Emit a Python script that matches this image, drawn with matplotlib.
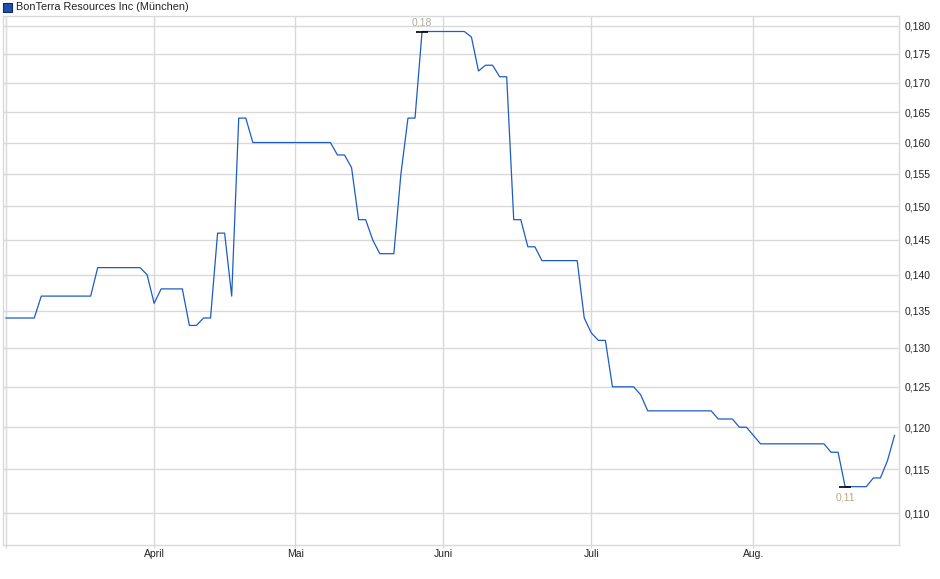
import matplotlib

matplotlib.use("Agg")
import matplotlib.pyplot as plt
import numpy as np
from matplotlib.patches import Rectangle
from matplotlib.ticker import FixedLocator, FuncFormatter, NullLocator

plt.rcParams["font.family"] = ["Liberation Sans", "DejaVu Sans"]

# daily closing prices (trading-day index 0..126), EUR
prices = [
    0.134, 0.134, 0.134, 0.134, 0.134, 0.137, 0.137, 0.137, 0.137, 0.137,
    0.137, 0.137, 0.137, 0.141, 0.141, 0.141, 0.141, 0.141, 0.141, 0.141,
    0.140, 0.136, 0.138, 0.138, 0.138, 0.138, 0.133, 0.133, 0.134, 0.134,
    0.146, 0.146, 0.137, 0.164, 0.164, 0.160, 0.160, 0.160, 0.160, 0.160,
    0.160, 0.160, 0.160, 0.160, 0.160, 0.160, 0.160, 0.158, 0.158, 0.156,
    0.148, 0.148, 0.145, 0.143, 0.143, 0.143, 0.155, 0.164, 0.164, 0.179,
    0.179, 0.179, 0.179, 0.179, 0.179, 0.179, 0.178, 0.172, 0.173, 0.173,
    0.171, 0.171, 0.148, 0.148, 0.144, 0.144, 0.142, 0.142, 0.142, 0.142,
    0.142, 0.142, 0.134, 0.132, 0.131, 0.131, 0.125, 0.125, 0.125, 0.125,
    0.124, 0.122, 0.122, 0.122, 0.122, 0.122, 0.122, 0.122, 0.122, 0.122,
    0.122, 0.121, 0.121, 0.121, 0.120, 0.120, 0.119, 0.118, 0.118, 0.118,
    0.118, 0.118, 0.118, 0.118, 0.118, 0.118, 0.118, 0.117, 0.117, 0.113,
    0.113, 0.113, 0.113, 0.114, 0.114, 0.116, 0.119,
]
month_days = [0, 21, 41, 62, 83, 106]
month_labels = ["", "April", "Mai", "Juni", "Juli", "Aug."]
y_ticks = [0.110, 0.115, 0.120, 0.125, 0.130, 0.135, 0.140, 0.145,
           0.150, 0.155, 0.160, 0.165, 0.170, 0.175, 0.180]

line_color = "#1c5cc6"
grid_color = "#d9d9d9"

prices = np.array(prices)
days = np.arange(len(prices))

fig = plt.figure(figsize=(9.4, 5.79), dpi=100)
ax = fig.add_axes([0.0029, 0.0587, 0.9532, 0.9137])

ax.plot(days, prices, color=line_color, lw=0.9, zorder=3)

# high / low markers
i_hi = int(np.argmax(prices))
i_lo = int(np.argmin(prices))
ax.plot([i_hi, i_lo], [prices[i_hi], prices[i_lo]], marker="_", ms=9, mew=1.2,
        color="black", ls="none", zorder=4)
ax.annotate(f"{prices[i_hi]:.2f}".replace(".", ","), (i_hi, prices[i_hi]),
            xytext=(0, 3), textcoords="offset points", ha="center", va="bottom",
            fontsize=7.5, color="#aeaaa0")
ax.annotate(f"{prices[i_lo]:.2f}".replace(".", ","), (i_lo, prices[i_lo]),
            xytext=(0, -4), textcoords="offset points", ha="center", va="top",
            fontsize=7.5, color="#b8a888")

ax.set_yscale("log")
ax.set_ylim(0.10653, 0.18183)
ax.set_xlim(-0.47, 126.6)

ax.yaxis.set_major_locator(FixedLocator(y_ticks))
ax.yaxis.set_minor_locator(NullLocator())
ax.yaxis.set_major_formatter(FuncFormatter(lambda v, p: f"{v:.3f}".replace(".", ",")))
ax.yaxis.tick_right()
ax.tick_params(axis="y", length=0, pad=4, labelsize=7.5, colors="#222222")

ax.set_xticks(month_days)
ax.set_xticklabels(month_labels)
ax.tick_params(axis="x", length=2, width=1, color=grid_color, pad=1, labelsize=7.5,
               labelcolor="#222222")

ax.grid(True, color=grid_color, lw=1.0, zorder=0)
for s in ax.spines.values():
    s.set_color(grid_color)
    s.set_linewidth(1.0)

# legend box at top left
W, H = 940, 579
fig.add_artist(Rectangle((3 / W, 1 - 12 / H), 9 / W, 9 / H, transform=fig.transFigure,
                         facecolor="#1f50b0", edgecolor="#102a60", lw=0.8))
fig.text(16 / W, 1 - 7.5 / H, "BonTerra Resources Inc (München)", ha="left", va="center",
         fontsize=7.8, color="#222222")

fig.savefig("out.png", dpi=100)
